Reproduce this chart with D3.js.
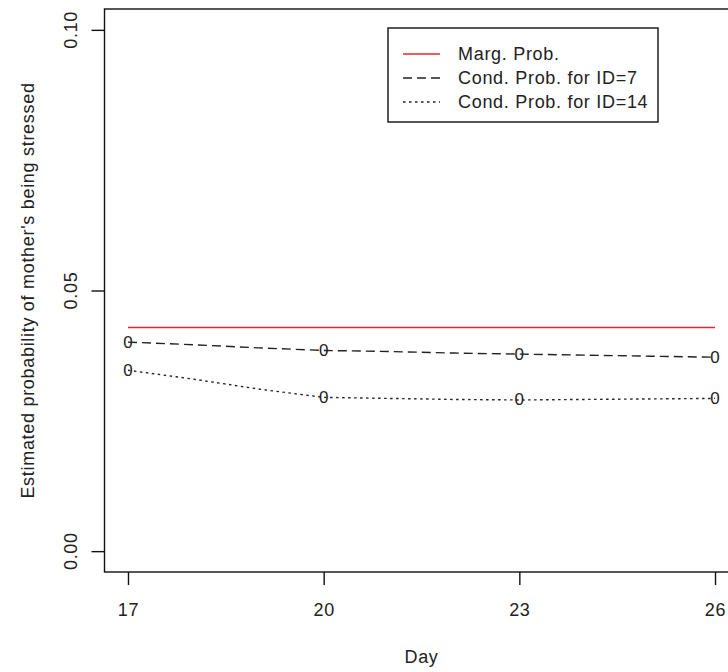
<!DOCTYPE html>
<html>
<head>
<meta charset="utf-8">
<script src="https://cdn.jsdelivr.net/npm/d3@7"></script>
<style>
  body { margin: 0; background: #fff; }
  text { font-family: "Liberation Sans", Arial, sans-serif; fill: #222; letter-spacing: 0.7px; }
</style>
</head>
<body>
<svg id="canvas" width="728" height="672"></svg>
<script>
// days and estimated probabilities
let days = [17, 18, 19, 20, 21, 22, 23, 24, 25, 26]
let pointDays = [17, 20, 23, 26]
let margProb = [0.0429, 0.0429, 0.0429, 0.0429, 0.0429, 0.0429, 0.0429, 0.0429, 0.0429, 0.0429]
let condId7 = [0.0401, 0.0396, 0.0390, 0.0385, 0.0383, 0.0380, 0.0378, 0.0376, 0.0374, 0.0372]
let condId14 = [0.0347, 0.0330, 0.0311, 0.0295, 0.0293, 0.0291, 0.0290, 0.0291, 0.0292, 0.0293]
let xTicks = [17, 20, 23, 26]
let yTicks = [0.00, 0.05, 0.10]
let legendLabels = ['Marg. Prob.', 'Cond. Prob. for ID=7', 'Cond. Prob. for ID=14']

let canvas = d3.select('#canvas')

let plotLeft = 104.5, plotRight = 738.5, plotTop = 9, plotBottom = 572

// R style 4% padding on both axes
let xScale = d3.scaleLinear().domain([16.64, 26.36]).range([plotLeft, plotRight])
let yScale = d3.scaleLinear().domain([-0.004, 0.104]).range([plotBottom, plotTop])

let series = [
    {values: margProb, color: '#e0282e', dash: null, points: false},
    {values: condId7, color: '#222', dash: '9,5', points: true},
    {values: condId14, color: '#222', dash: '2.5,3.5', points: true}
]

let line = d3.line()
    .x((d) => xScale(d[0]))
    .y((d) => yScale(d[1]))

series.forEach((s) => {
    let pts = days.map((d, i) => [d, s.values[i]])
    canvas.append('path')
        .attr('d', line(pts))
        .attr('fill', 'none')
        .attr('stroke', s.color)
        .attr('stroke-width', 1.4)
        .attr('stroke-dasharray', s.dash)

    if (s.points) {
        canvas.selectAll(null)
            .data(pts.filter((p) => pointDays.includes(p[0])))
            .enter()
            .append('text')
            .attr('x', (p) => xScale(p[0]))
            .attr('y', (p) => yScale(p[1]))
            .attr('text-anchor', 'middle')
            .attr('dominant-baseline', 'central')
            .attr('font-size', 17)
            .style('letter-spacing', '0px')
            .text('0')
    }
})

// plot box (right side runs past the window)
canvas.append('rect')
    .attr('x', plotLeft)
    .attr('y', plotTop)
    .attr('width', plotRight - plotLeft)
    .attr('height', plotBottom - plotTop)
    .attr('fill', 'none')
    .attr('stroke', '#111')
    .attr('stroke-width', 1.4)

// x axis
let xAxis = d3.axisBottom(xScale).tickValues(xTicks).tickSize(13).tickPadding(18)
let gx = canvas.append('g')
    .attr('transform', 'translate(0,' + plotBottom + ')')
    .call(xAxis)
gx.select('.domain').remove()
gx.selectAll('line').attr('stroke', '#111').attr('stroke-width', 1.4)
gx.selectAll('text')
    .attr('font-size', 18)
    .attr('font-family', '"Liberation Sans", Arial, sans-serif')
    .attr('fill', '#222')

// y axis, labels turned like R's default
let yAxis = d3.axisLeft(yScale).tickValues(yTicks).tickSize(13).tickFormat(d3.format('.2f'))
let gy = canvas.append('g')
    .attr('transform', 'translate(' + plotLeft + ',0)')
    .call(yAxis)
gy.select('.domain').remove()
gy.selectAll('line').attr('stroke', '#111').attr('stroke-width', 1.4)
gy.selectAll('text').remove()
canvas.selectAll(null)
    .data(yTicks)
    .enter()
    .append('text')
    .attr('transform', (d) => 'translate(71,' + yScale(d) + ') rotate(-90)')
    .attr('text-anchor', 'middle')
    .attr('dominant-baseline', 'central')
    .attr('font-size', 18)
    .text(d3.format('.2f'))

// axis titles
canvas.append('text')
    .attr('x', (plotLeft + plotRight) / 2)
    .attr('y', 663)
    .attr('text-anchor', 'middle')
    .attr('font-size', 18)
    .text('Day')

canvas.append('text')
    .attr('transform', 'translate(28,' + (plotTop + plotBottom) / 2 + ') rotate(-90)')
    .attr('text-anchor', 'middle')
    .attr('dominant-baseline', 'central')
    .attr('font-size', 18)
    .text("Estimated probability of mother's being stressed")

// legend
let legend = canvas.append('g')
legend.append('rect')
    .attr('x', 388).attr('y', 28)
    .attr('width', 270).attr('height', 94)
    .attr('fill', '#fff')
    .attr('stroke', '#111')
    .attr('stroke-width', 1.4)

let rows = legend.selectAll('g')
    .data(series)
    .enter()
    .append('g')
    .attr('transform', (s, i) => 'translate(0,' + (54 + i * 24) + ')')

rows.append('line')
    .attr('x1', 403).attr('x2', 440)
    .attr('stroke', (s) => s.color)
    .attr('stroke-width', 1.4)
    .attr('stroke-dasharray', (s) => s.dash)

rows.append('text')
    .attr('x', 458)
    .attr('dominant-baseline', 'central')
    .attr('font-size', 18)
    .text((s, i) => legendLabels[i])
</script>
</body>
</html>
